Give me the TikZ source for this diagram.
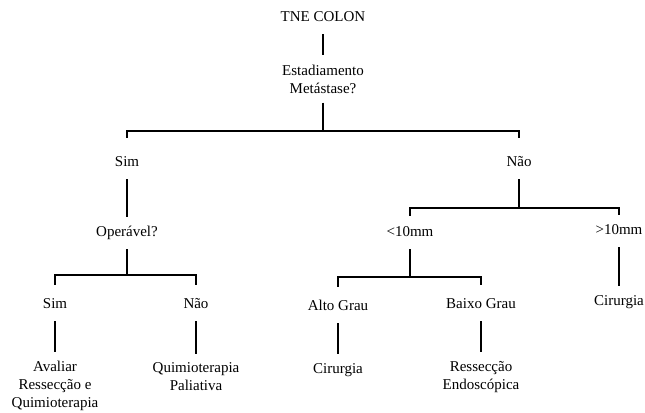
\documentclass[tikz,border=0pt]{standalone}
\usepackage{fontspec}
\setmainfont{Liberation Serif}
\tikzset{
    txt/.style={inner xsep=2pt, inner ysep=6.75pt, text height=8pt, text depth=2.5pt, font=\fontsize{11.25}{13.5}\selectfont},
    mtxt/.style={inner xsep=2pt, inner ysep=6.75pt, align=center, font=\fontsize{11.25}{13.5}\selectfont},
    link/.style={line width=1.4pt},
    bar/.style={line width=1.4pt, shorten <=3pt, shorten >=3pt}
}
\begin{document}
\begin{tikzpicture}[x=0.75pt, y=-0.75pt]
        \useasboundingbox (0,0) rectangle (645,412);

        \node[txt] (root) at (323,18) {TNE COLON};
        \node[mtxt] (est) at (323,79) {Estadiamento\\Metástase?};
        \coordinate (b1) at (323,131);
        \node[txt] (sim) at (127,163) {Sim};
        \node[txt] (nao) at (519,163) {Não};

        \node[txt] (oper) at (127,233) {Operável?};
        \coordinate (b3) at (127,275);
        \node[txt] (sim2) at (55,305) {Sim};
        \node[txt] (nao2) at (196,305) {Não};
        \node[mtxt] (aval) at (55,386) {Avaliar\\Ressecção e\\Quimioterapia};
        \node[mtxt] (quimio) at (196,377) {Quimioterapia\\Paliativa};

        \coordinate (b2) at (519,208);
        \node[txt] (lt) at (410,233) {<10mm};
        \node[txt] (gt) at (619,231) {>10mm};
        \coordinate (b4) at (410,277);
        \node[txt] (alto) at (338,307) {Alto Grau};
        \node[txt] (baixo) at (481,305) {Baixo Grau};
        \node[txt] (cir1) at (338,370) {Cirurgia};
        \node[mtxt] (resec) at (481,377) {Ressecção\\Endoscópica};
        \node[txt] (cir2) at (619,302) {Cirurgia};

        \draw[link] (root) -- (est);
        \draw[link] (est) -- (b1);
        \draw[bar, shorten <=6.75pt, shorten >=6.75pt] (sim.north) |- (b1) -| (nao.north);

        \draw[link] (sim) -- (oper);
        \draw[link] (oper) -- (b3);
        \draw[bar] (sim2.north) |- (b3) -| (nao2.north);
        \draw[link] (sim2) -- (aval);
        \draw[link] (nao2) -- (quimio);

        \draw[link] (nao) -- (b2);
        \draw[bar, shorten <=0.75pt, shorten >=0pt] (lt.north) |- (b2) -| (gt.north);
        \draw[link] (lt) -- (b4);
        \draw[bar] (alto.north) |- (b4) -| (baixo.north);
        \draw[link] (alto) -- (cir1);
        \draw[link] (baixo) -- (resec);
        \draw[link] (gt) -- (cir2);
    \end{tikzpicture}
\end{document}
